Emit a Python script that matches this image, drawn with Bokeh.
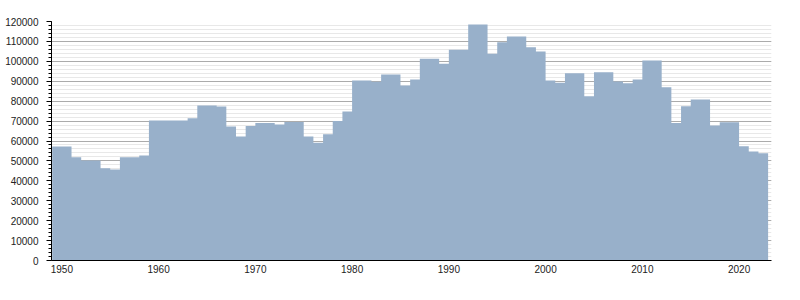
from bokeh.plotting import figure
from bokeh.models import Range1d, SingleIntervalTicker, BasicTickFormatter
from bokeh.embed import file_html
from bokeh.resources import INLINE

# Start year of each step and its value (value holds until the next start year)
years = [1949, 1951, 1952, 1954, 1955, 1956, 1958, 1959, 1963, 1964, 1966, 1967,
         1968, 1969, 1970, 1972, 1973, 1975, 1976, 1977, 1978, 1979, 1980, 1982,
         1983, 1985, 1986, 1987, 1989, 1990, 1992, 1994, 1995, 1996, 1998, 1999,
         2000, 2001, 2002, 2004, 2005, 2007, 2008, 2009, 2010, 2012, 2013, 2014,
         2015, 2017, 2018, 2020, 2021, 2022]
values = [57200, 51900, 50200, 46300, 45700, 51900, 52700, 70300, 71400, 77800, 77300, 67300,
          62300, 67500, 69000, 68300, 69500, 62300, 59100, 63400, 70000, 74800, 90400, 89700,
          93400, 87900, 90900, 101300, 98800, 105800, 118500, 103800, 109600, 112500, 107100, 104900,
          90400, 89200, 94000, 82500, 94500, 89900, 89000, 90900, 100400, 87000, 69100, 77500,
          80800, 67800, 69400, 57400, 54700, 53900]
end_year = 2023
x_ticks_interval = 10
y_tick_interval = 10000

xs = years + [end_year]
ys = values + [values[-1]]

p = figure(width=800, height=300, output_backend="svg", toolbar_location=None,
           x_range=Range1d(1948.93, 2023.35), y_range=Range1d(0, 120000),
           min_border_left=51, min_border_right=29, min_border_top=21, min_border_bottom=40)
p.outline_line_color = None
p.background_fill_color = "white"
p.border_fill_color = "white"

p.varea_step(x=xs, y1=[0] * len(xs), y2=ys, step_mode="after",
             fill_color="#98b0ca", fill_alpha=1.0)

font = "Liberation Sans"

# y axis
p.yaxis.ticker = SingleIntervalTicker(interval=y_tick_interval, num_minor_ticks=5)
p.yaxis.formatter = BasicTickFormatter(use_scientific=False)
p.yaxis.major_tick_out = 5
p.yaxis.major_tick_in = 0
p.yaxis.minor_tick_out = 3
p.yaxis.minor_tick_in = 0
p.yaxis.axis_line_color = "black"
p.yaxis.major_tick_line_color = "black"
p.yaxis.minor_tick_line_color = "black"
p.yaxis.major_label_standoff = 8
p.yaxis.major_label_text_font = font
p.yaxis.major_label_text_font_size = "10px"
p.yaxis.major_label_text_color = "#222222"

# x axis
p.xaxis.ticker = SingleIntervalTicker(interval=x_ticks_interval, num_minor_ticks=0)
p.xaxis.major_tick_out = 0
p.xaxis.major_tick_in = 0
p.xaxis.minor_tick_out = 0
p.xaxis.minor_tick_in = 0
p.xaxis.axis_line_color = "black"
p.xaxis.major_label_standoff = 4
p.xaxis.major_label_text_font = font
p.xaxis.major_label_text_font_size = "10px"
p.xaxis.major_label_text_color = "#222222"

# grids
p.xgrid.grid_line_color = None
p.ygrid.grid_line_color = "#ababab"
p.ygrid.minor_grid_line_color = "#e8e8e8"
p.ygrid.ticker = SingleIntervalTicker(interval=y_tick_interval, num_minor_ticks=5)

open("out.html", "w").write(file_html(p, INLINE))
